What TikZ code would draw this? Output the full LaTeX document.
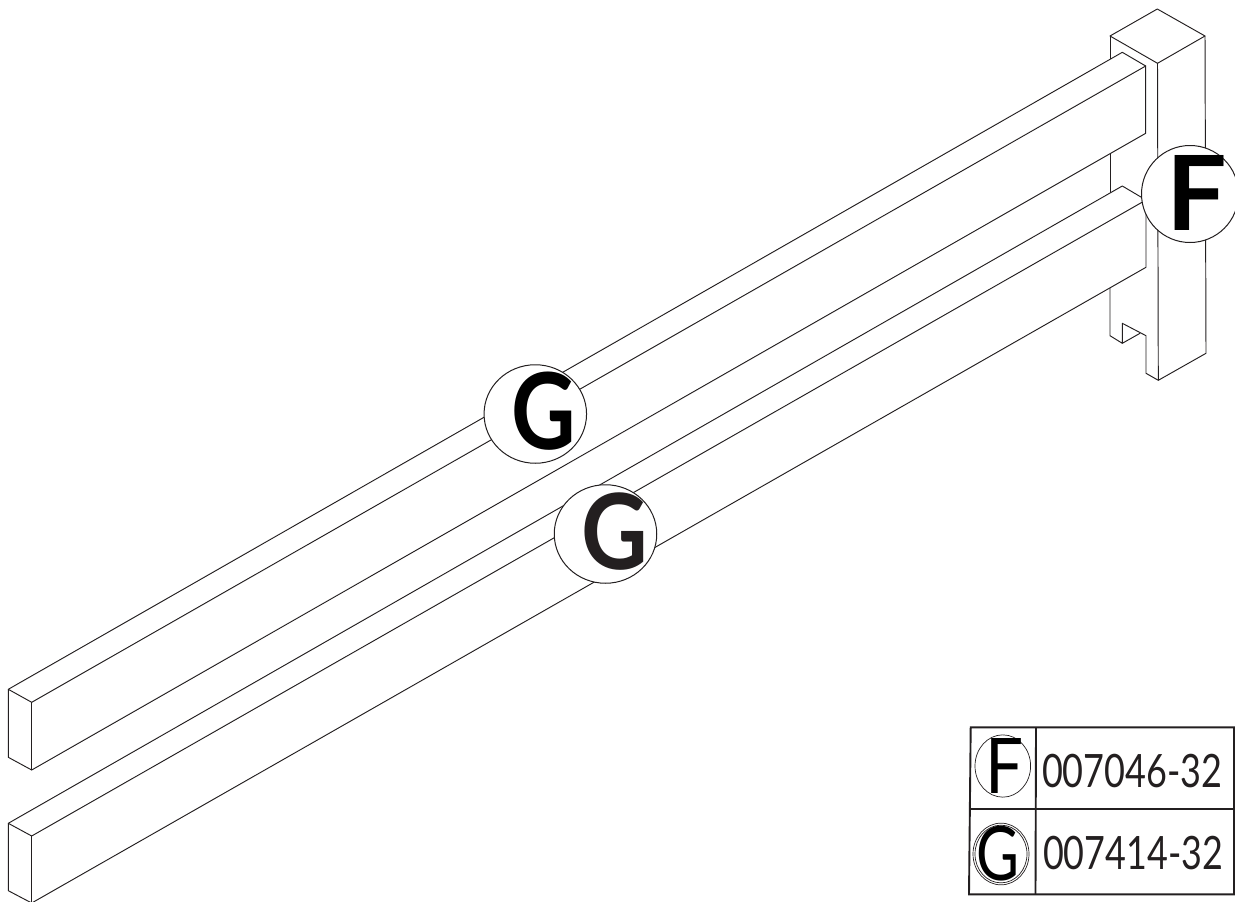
\documentclass[tikz,border=0pt]{standalone}
\usepackage{graphicx}
\usepackage{fontspec}
\setmainfont{Lato}
\usetikzlibrary{shapes.geometric}
\definecolor{inkline}{HTML}{231F20}
\newcommand{\fitted}[3]{\resizebox{#1pt}{#2pt}{#3}}
\tikzset{
  edgeline/.style={draw=inkline,line width=0.95pt,line join=round,line cap=round},
  callout/.style={ellipse,draw=inkline,fill=white,line width=1pt,inner sep=0pt,outer sep=0pt},
  legendring/.style={ellipse,draw=inkline,line width=0.7pt,inner sep=0pt,outer sep=0pt},
  glyph/.style={inner sep=0pt,outer sep=0pt,anchor=south west},
  tablerule/.style={draw=inkline,line width=1.9pt,line join=miter}
}
\begin{document}
\begin{tikzpicture}[x=1pt,y=-1pt]
\useasboundingbox (0,0) rectangle (1235,902);
% post
\draw[edgeline] (1110,36) -- (1157.3,9) -- (1205,36) -- (1157.5,63.3) -- cycle;
\draw[edgeline] (1157.5,63.3) -- (1158.3,380.3);
\draw[edgeline] (1205,36) -- (1206,353.3) -- (1158.3,380.3) -- (1146,373.3) -- (1146,335.7) -- (1122.3,323.3) -- (1122.3,343.3) -- (1110,335.7) -- (1110,288);
\draw[edgeline] (1122.3,343.3) -- (1140,333.3);
\draw[edgeline] (1110,36) -- (1110,60);
\draw[edgeline] (1110,154) -- (1110,193);
% upper rail
\draw[fill=white,edgeline] (8.3,689.3) -- (1122.3,52.3) -- (1145.7,66) -- (1145.7,133.3) -- (31.7,770) -- (8.3,757.3) -- cycle;
\draw[edgeline] (8.3,689.3) -- (31.7,702.3) -- (1145.7,66);
\draw[edgeline] (31.7,702.3) -- (31.7,770);
% lower rail
\draw[fill=white,edgeline] (8.3,823.3) -- (1122.3,186) -- (1146,200) -- (1146,267.3) -- (31.7,903) -- (8.3,890.7) -- cycle;
\draw[edgeline] (8.3,823.3) -- (31.7,836) -- (1146,200);
\draw[edgeline] (31.7,836) -- (31.7,903);
% callouts
\node[callout,minimum width=97pt,minimum height=97pt] (calloutF) at (1190,194) {};
\node[callout,minimum width=102.5pt,minimum height=98.5pt] (calloutGa) at (535.3,414) {};
\node[callout,minimum width=102.5pt,minimum height=98.5pt] (calloutGb) at (605.5,534) {};
\node[glyph] (letterF) at (1166,230) {\fitted{60.6}{75}{\bfseries F}};
\node[glyph] (letterGa) at (511.8,450) {\fitted{64.6}{77.5}{\bfseries G}};
\node[glyph,text=inkline] (letterGb) at (581.5,570) {\fitted{66.7}{76.7}{\bfseries G}};
% parts table
\draw[tablerule] (970.7,727.3) -- (1234,727.3) -- (1234,894.3) -- (969,894.3) -- cycle;
\draw[tablerule] (970,809) -- (1234,809);
\draw[tablerule] (1036,727.3) -- (1035.5,894.3);
\node[legendring,minimum width=55.6pt,minimum height=62.3pt] (ringF) at (1002.8,766) {};
\node[legendring,minimum width=56pt,minimum height=61.7pt] (ringGouter) at (1001,854) {};
\node[legendring,minimum width=52pt,minimum height=57.7pt] (ringGinner) at (1001,854) {};
\node[glyph] (tableF) at (985,793) {\fitted{38}{55}{F}};
\node[glyph] (tableG) at (976.5,881) {\fitted{43}{54.3}{G}};
\node[glyph,text=inkline] (codeF) at (1042,788.3) {\fitted{180.5}{33.3}{007046-32}};
\node[glyph,text=inkline] (codeG) at (1043,870) {\fitted{180}{33.3}{007414-32}};
\end{tikzpicture}
\end{document}
